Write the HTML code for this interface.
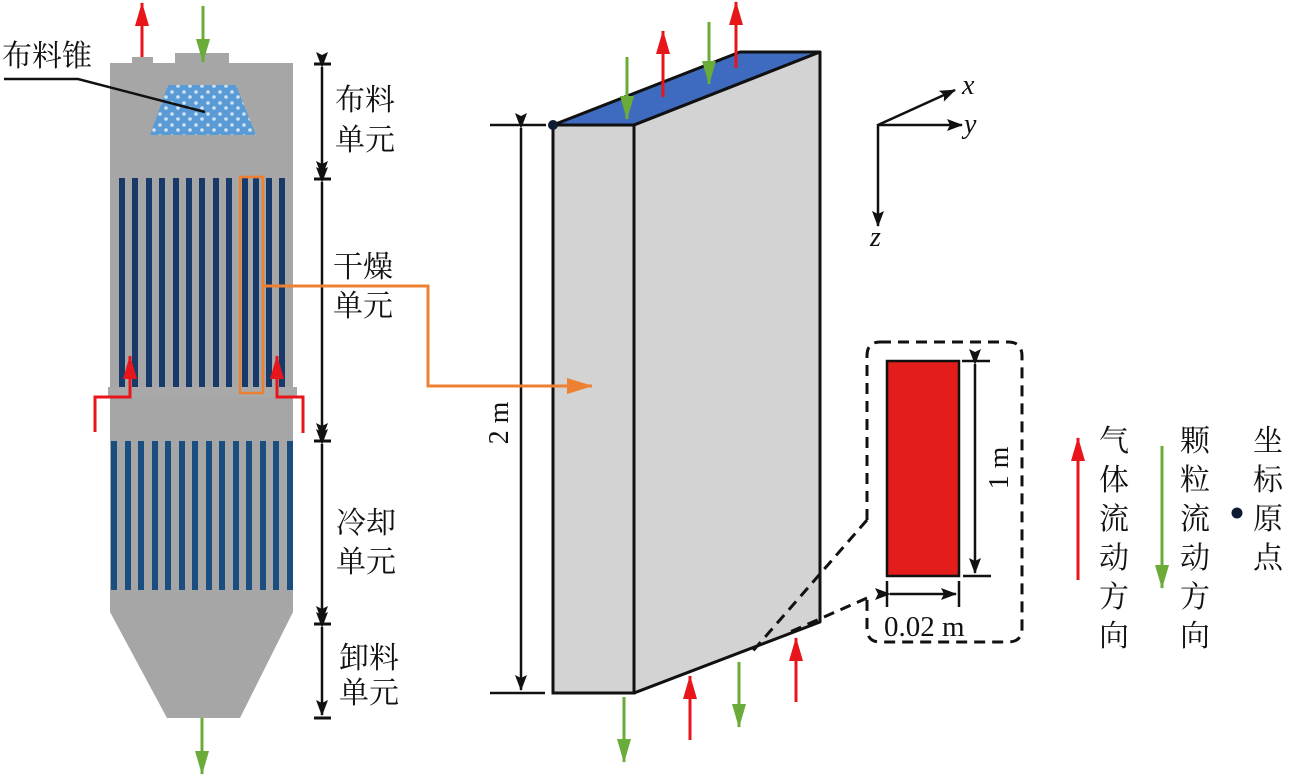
<!DOCTYPE html>
<html><head><meta charset="utf-8"><style>
html,body{margin:0;padding:0;background:#fff;}
svg{display:block;}
.cn{font-family:"Liberation Serif","Noto Serif CJK SC","Noto Sans CJK SC",serif;font-size:30px;fill:#111;}
.en{font-family:"Liberation Serif",serif;fill:#111;}
</style></head><body>
<svg width="1299" height="778" viewBox="0 0 1299 778" xmlns="http://www.w3.org/2000/svg">
<defs>
<marker id="akl" markerWidth="16" markerHeight="12" refX="15" refY="6" orient="auto" markerUnits="userSpaceOnUse"><path d="M0,0 L16,6 L0,12 L3,6 Z" fill="#111"/></marker>
<marker id="ar" markerWidth="24" markerHeight="14" refX="23" refY="7" orient="auto" markerUnits="userSpaceOnUse"><path d="M0,0 L24,7 L0,14 Z" fill="#e8161b"/></marker>
<marker id="ag" markerWidth="24" markerHeight="14" refX="23" refY="7" orient="auto" markerUnits="userSpaceOnUse"><path d="M0,0 L24,7 L0,14 Z" fill="#6aab3a"/></marker>
<marker id="ao" markerWidth="26" markerHeight="16" refX="25" refY="8" orient="auto" markerUnits="userSpaceOnUse"><path d="M0,0 L26,8 L0,16 Z" fill="#ee8031"/></marker>
<pattern id="dots" width="12" height="11" patternUnits="userSpaceOnUse"><rect width="12" height="11" fill="#5b9bd5"/><circle cx="4" cy="4" r="1.8" fill="#cfe3f5"/><circle cx="10" cy="9" r="1.8" fill="#cfe3f5"/></pattern>
</defs>

<!-- Tower -->
<rect x="132" y="57" width="21" height="8" fill="#a6a6a6"/>
<rect x="175" y="53" width="54" height="12" fill="#a6a6a6"/>
<path d="M110,63 H293 V612 L240,718 H167 L110,612 Z" fill="#a6a6a6"/>
<rect x="108" y="387" width="189" height="10" fill="#a9a9a9"/>
<polygon points="168,85 236,85 256,135 150,135" fill="url(#dots)"/>
<g fill="#173a6b">
<rect x="119" y="178" width="6" height="209"/><rect x="132" y="178" width="6" height="209"/><rect x="146" y="178" width="6" height="209"/><rect x="159" y="178" width="6" height="209"/><rect x="173" y="178" width="6" height="209"/><rect x="186" y="178" width="6" height="209"/><rect x="199" y="178" width="6" height="209"/><rect x="213" y="178" width="6" height="209"/><rect x="226" y="178" width="6" height="209"/><rect x="242" y="178" width="6" height="209"/><rect x="253" y="178" width="6" height="209"/><rect x="266" y="178" width="6" height="209"/><rect x="279" y="178" width="6" height="209"/>
</g>
<g fill="#1b4e80">
<rect x="111" y="441" width="6" height="149"/><rect x="125" y="441" width="6" height="149"/><rect x="138" y="441" width="6" height="149"/><rect x="152" y="441" width="6" height="149"/><rect x="165" y="441" width="6" height="149"/><rect x="179" y="441" width="6" height="149"/><rect x="192" y="441" width="6" height="149"/><rect x="206" y="441" width="6" height="149"/><rect x="219" y="441" width="6" height="149"/><rect x="233" y="441" width="6" height="149"/><rect x="246" y="441" width="6" height="149"/><rect x="260" y="441" width="6" height="149"/><rect x="273" y="441" width="6" height="149"/><rect x="287" y="441" width="6" height="149"/>
</g>
<rect x="240" y="177" width="23" height="216" fill="none" stroke="#ee8031" stroke-width="2.5"/>
<!-- tower flow arrows -->
<line x1="142" y1="57" x2="142" y2="3" stroke="#e8161b" stroke-width="3" marker-end="url(#ar)"/>
<line x1="203" y1="6" x2="203" y2="62" stroke="#6aab3a" stroke-width="3" marker-end="url(#ag)"/>
<polyline points="95,432 95,397 130,397 130,356" fill="none" stroke="#e8161b" stroke-width="3" marker-end="url(#ar)"/>
<polyline points="303,433 303,397 277,397 277,356" fill="none" stroke="#e8161b" stroke-width="3" marker-end="url(#ar)"/>
<line x1="202" y1="718" x2="202" y2="774" stroke="#6aab3a" stroke-width="3" marker-end="url(#ag)"/>
<!-- 布料锥 -->
<text x="2" y="66" class="cn">布料锥</text>
<polyline points="4,79 78,79 205,112" fill="none" stroke="#111" stroke-width="2.5"/>
<!-- dimension lines -->
<g stroke="#111" stroke-width="3">
<line x1="314" y1="64" x2="331" y2="64"/><line x1="314" y1="179" x2="331" y2="179"/><line x1="314" y1="441" x2="331" y2="441"/><line x1="314" y1="624" x2="331" y2="624"/><line x1="314" y1="718" x2="331" y2="718"/>
</g>
<g stroke="#111" stroke-width="2.5" marker-start="url(#akl)" marker-end="url(#akl)">
<line x1="322" y1="67" x2="322" y2="176"/><line x1="322" y1="182" x2="322" y2="438"/><line x1="322" y1="444" x2="322" y2="621"/><line x1="322" y1="627" x2="322" y2="715"/>
</g>
<text x="335" y="110" class="cn">布料</text><text x="335" y="150" class="cn">单元</text>
<text x="333" y="277" class="cn">干燥</text><text x="333" y="316" class="cn">单元</text>
<text x="336" y="533" class="cn">冷却</text><text x="336" y="572" class="cn">单元</text>
<text x="339" y="668" class="cn">卸料</text><text x="339" y="703" class="cn">单元</text>

<!-- 3D box -->
<polygon points="553,125 634,125 820,52 740,52" fill="#3e6bbf" stroke="#111" stroke-width="3" stroke-linejoin="round"/>
<polygon points="634,125 820,52 820,622 634,693" fill="#d3d3d3" stroke="#111" stroke-width="3" stroke-linejoin="round"/>
<rect x="553" y="125" width="81" height="568" fill="#d3d3d3" stroke="#111" stroke-width="3"/>
<circle cx="553" cy="125" r="5" fill="#0f1a33"/>
<line x1="490" y1="125" x2="546" y2="125" stroke="#111" stroke-width="2.5"/>
<line x1="490" y1="693" x2="545" y2="693" stroke="#111" stroke-width="2.5"/>
<line x1="521" y1="128" x2="521" y2="690" stroke="#111" stroke-width="2.5" marker-start="url(#akl)" marker-end="url(#akl)"/>
<text transform="translate(508,423) rotate(-90)" text-anchor="middle" class="en" font-size="28">2 m</text>
<polyline points="263,286 428,286 428,386 592,386" fill="none" stroke="#ee8031" stroke-width="3" marker-end="url(#ao)"/>
<!-- box flow arrows -->
<line x1="627" y1="57" x2="627" y2="119" stroke="#6aab3a" stroke-width="3" marker-end="url(#ag)"/>
<line x1="663" y1="97" x2="663" y2="31" stroke="#e8161b" stroke-width="3" marker-end="url(#ar)"/>
<line x1="709" y1="22" x2="709" y2="84" stroke="#6aab3a" stroke-width="3" marker-end="url(#ag)"/>
<line x1="736" y1="68" x2="736" y2="2" stroke="#e8161b" stroke-width="3" marker-end="url(#ar)"/>
<line x1="624" y1="697" x2="624" y2="762" stroke="#6aab3a" stroke-width="3" marker-end="url(#ag)"/>
<line x1="690" y1="740" x2="690" y2="676" stroke="#e8161b" stroke-width="3" marker-end="url(#ar)"/>
<line x1="739" y1="662" x2="739" y2="727" stroke="#6aab3a" stroke-width="3" marker-end="url(#ag)"/>
<line x1="796" y1="702" x2="796" y2="638" stroke="#e8161b" stroke-width="3" marker-end="url(#ar)"/>
<!-- axes -->
<g stroke="#111" stroke-width="2.5">
<line x1="878" y1="125" x2="955" y2="90" marker-end="url(#akl)"/>
<line x1="878" y1="125" x2="962" y2="125" marker-end="url(#akl)"/>
<line x1="878" y1="124" x2="878" y2="226" marker-end="url(#akl)"/>
</g>
<text x="962" y="94" class="en" font-size="28" font-style="italic">x</text>
<text x="964" y="133" class="en" font-size="28" font-style="italic">y</text>
<text x="870" y="246" class="en" font-size="28" font-style="italic">z</text>
<!-- inset -->
<path d="M880,342 H1008 Q1022,342 1022,356 V628 Q1022,642 1008,642 H880 Q867,642 867,628 V600 M867,520 V356 Q867,342 880,342" fill="none" stroke="#111" stroke-width="3" stroke-dasharray="11,7"/>
<line x1="867" y1="520" x2="752" y2="652" stroke="#111" stroke-width="3" stroke-dasharray="11,7"/>
<line x1="867" y1="598" x2="790" y2="632" stroke="#111" stroke-width="3" stroke-dasharray="11,7"/>
<rect x="887" y="361" width="72" height="215" fill="#e31e1a" stroke="#111" stroke-width="2.5"/>
<line x1="962" y1="361" x2="990" y2="361" stroke="#111" stroke-width="2.5"/>
<line x1="963" y1="576" x2="991" y2="576" stroke="#111" stroke-width="2.5"/>
<line x1="975" y1="364" x2="975" y2="573" stroke="#111" stroke-width="2.5" marker-start="url(#akl)" marker-end="url(#akl)"/>
<text transform="translate(1008,468) rotate(-90)" text-anchor="middle" class="en" font-size="28">1 m</text>
<line x1="887" y1="581" x2="887" y2="607" stroke="#111" stroke-width="2.5"/>
<line x1="959" y1="581" x2="959" y2="607" stroke="#111" stroke-width="2.5"/>
<line x1="890" y1="594" x2="956" y2="594" stroke="#111" stroke-width="2.5" marker-start="url(#akl)" marker-end="url(#akl)"/>
<text x="884" y="636" class="en" font-size="29">0.02 m</text>
<!-- legend -->
<line x1="1078" y1="580" x2="1078" y2="438" stroke="#e8161b" stroke-width="3" marker-end="url(#ar)"/>
<line x1="1162" y1="446" x2="1162" y2="588" stroke="#6aab3a" stroke-width="3" marker-end="url(#ag)"/>
<circle cx="1237" cy="513" r="5.5" fill="#0f1a33"/>
<g class="cn">
<text x="1099" y="451">气</text><text x="1099" y="490">体</text><text x="1099" y="529">流</text><text x="1099" y="568">动</text><text x="1099" y="607">方</text><text x="1099" y="646">向</text>
<text x="1180" y="451">颗</text><text x="1180" y="490">粒</text><text x="1180" y="529">流</text><text x="1180" y="568">动</text><text x="1180" y="607">方</text><text x="1180" y="646">向</text>
<text x="1253" y="451">坐</text><text x="1253" y="490">标</text><text x="1253" y="529">原</text><text x="1253" y="568">点</text>
</g>
</svg>
</body></html>
